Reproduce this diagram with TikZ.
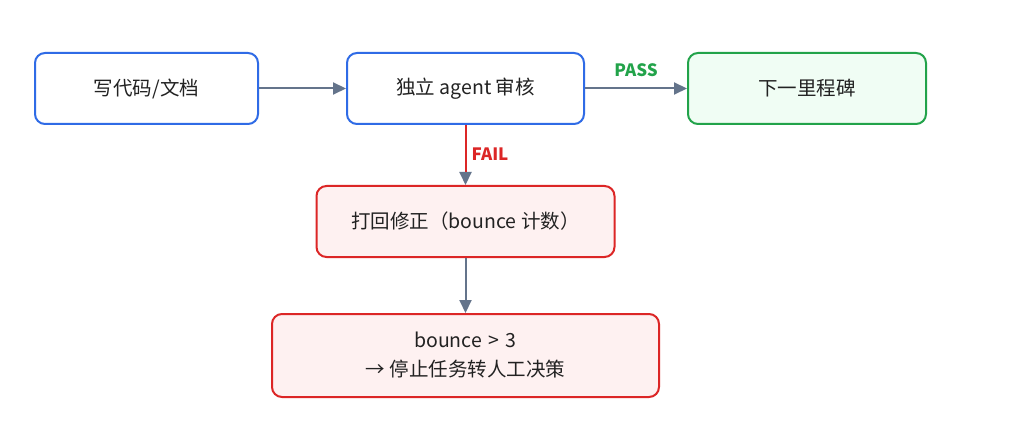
\documentclass[tikz,border=0pt]{standalone}
\usepackage{fontspec}
\setmainfont{Noto Sans CJK SC}
\usetikzlibrary{arrows.meta}
\definecolor{bblue}{HTML}{2F6BE6}
\definecolor{bgreen}{HTML}{22A34A}
\definecolor{gfill}{HTML}{F0FDF4}
\definecolor{bred}{HTML}{DC2626}
\definecolor{rfill}{HTML}{FEF1F1}
\definecolor{agray}{HTML}{64748B}
\definecolor{tdark}{HTML}{222222}
\tikzset{
  box/.style={draw, line width=2pt, rounded corners=10pt, align=center, inner sep=0pt, text=tdark, font=\fontsize{19.5}{29}\selectfont},
  bluebox/.style={box, draw=bblue, fill=white},
  greenbox/.style={box, draw=bgreen, fill=gfill},
  redbox/.style={box, draw=bred, fill=rfill},
  conn/.style={draw=agray, line width=2pt, -{Triangle[length=13pt,width=12pt]}},
  lbl/.style={font=\fontsize{17}{18}\selectfont\bfseries},
}
\begin{document}
\begin{tikzpicture}[x=1pt,y=-1pt]
\useasboundingbox[fill=white] (0,0) rectangle (1024,446);
\node[bluebox, minimum width=223pt, minimum height=71pt] (write) at (146.5,88.5) {写代码/文档};
\node[bluebox, minimum width=237pt, minimum height=71pt] (review) at (465.5,88.5) {独立 agent 审核};
\node[greenbox, minimum width=238pt, minimum height=71pt] (next) at (807,88.5) {下一里程碑};
\node[redbox, minimum width=298pt, minimum height=71pt] (fix) at (465.5,221.5) {打回修正（bounce 计数）};
\node[redbox, minimum width=387pt, minimum height=83pt] (stop) at (465.5,355.5) {bounce\,\,>\,\,3\\→ 停止任务转人工决策};
\draw[conn] (write) -- (review);
\draw[conn] (review) -- (next);
\node[lbl, text=bgreen] (pass) at (636,70) {PASS};
\draw[conn] (review.south) -- (fix.north);
\coordinate (failend) at (465.5,172);
\draw[draw=bred, line width=2pt] (review.south) -- (failend);
\node[lbl, text=bred, anchor=west] (fail) at (468,154) {FAIL};
\draw[conn] (fix.south) -- (stop.north);
\end{tikzpicture}
\end{document}
